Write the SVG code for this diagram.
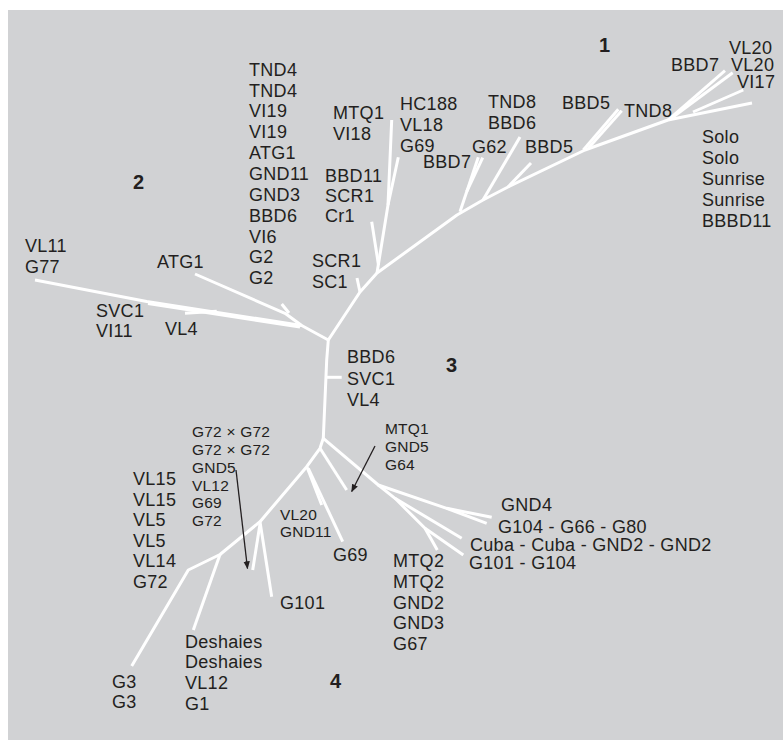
<svg xmlns="http://www.w3.org/2000/svg" width="783" height="740" viewBox="0 0 783 740">
<defs>
<style>
.t{font-family:"Liberation Sans",Arial,sans-serif;font-size:18px;letter-spacing:0.3px;fill:#231f20}
.s{font-family:"Liberation Sans",Arial,sans-serif;font-size:15.5px;letter-spacing:0.2px;fill:#231f20}
.n{font-family:"Liberation Sans",Arial,sans-serif;font-size:20px;font-weight:bold;fill:#231f20}
.b{fill:none;stroke:#ffffff;stroke-width:3;stroke-linejoin:round;stroke-linecap:butt}
.a{fill:none;stroke:#231f20;stroke-width:1.3}
</style>
<marker id="ah" viewBox="0 0 10 10" refX="9" refY="5" markerWidth="8" markerHeight="8" markerUnits="userSpaceOnUse" orient="auto">
<path d="M0,1 L10,5 L0,9 Z" fill="#231f20"/>
</marker>
</defs>
<rect x="8" y="10" width="775" height="730" fill="#d1d2d4"/>

<g id="connectors">
<polyline class="b" points="328.3,340 360,292 377,273 457,215 483,200 508,187 585,150 668,120 752,103"/>
<line class="b" x1="360" y1="292" x2="357" y2="278"/>
<polyline class="b" points="377,273 388,205 391.7,120"/>
<line class="b" x1="388" y1="205" x2="398.3" y2="157.3"/>
<line class="b" x1="378.5" y1="265" x2="371.7" y2="221.7"/>
<line class="b" x1="460" y1="211.7" x2="478.3" y2="157.3"/>
<line class="b" x1="466.7" y1="191.7" x2="482.7" y2="157.7"/>
<line class="b" x1="483" y1="200" x2="520" y2="137"/>
<line class="b" x1="508" y1="187" x2="531" y2="163"/>
<line class="b" x1="583.3" y1="150" x2="618.3" y2="109.3"/>
<line class="b" x1="588.3" y1="148.3" x2="621.7" y2="110.7"/>
<line class="b" x1="668.3" y1="120" x2="725" y2="70.7"/>
<line class="b" x1="673" y1="117" x2="732.7" y2="72.7"/>
<line class="b" x1="693" y1="112" x2="743.3" y2="90"/>
<polyline class="b" points="328.3,340 301.7,325.5 146.7,301.5 35,280"/>
<line class="b" x1="148" y1="303.5" x2="300" y2="327"/>
<polyline class="b" points="185,313.3 216.7,311.3"/>
<polyline class="b" points="195,274 285,313.3 301.7,325.5"/>
<line class="b" x1="281.7" y1="304" x2="289" y2="313"/>
<polyline class="b" points="328.3,340 326.7,360 323.3,438.3"/>
<line class="b" x1="326.5" y1="377.3" x2="341.7" y2="377.3"/>
<polyline class="b" points="323.3,438.3 320,448.3 306.7,466.7 260,521.7 220,554.5 188.3,570 131.7,666"/>
<line class="b" x1="220" y1="554.5" x2="193.3" y2="630"/>
<line class="b" x1="260" y1="521.7" x2="271.7" y2="596.7"/>
<line class="b" x1="260" y1="524" x2="252.7" y2="570"/>
<line class="b" x1="320" y1="448.3" x2="346.7" y2="490"/>
<line class="b" x1="307" y1="467" x2="321.7" y2="505"/>
<line class="b" x1="308.3" y1="468.3" x2="342.7" y2="541.7"/>
<polyline class="b" points="323.3,438.3 378.3,485 446.7,508.3 491.7,517.3"/>
<line class="b" x1="446.7" y1="508.3" x2="486.7" y2="523.3"/>
<polyline class="b" points="378.3,485 395,498.3 461.7,538.3"/>
<polyline class="b" points="395,498.3 425,528.3 463.3,555"/>
<line class="b" x1="425" y1="528.3" x2="437.3" y2="550"/>
<line class="a" x1="236" y1="470" x2="247.5" y2="568.5" marker-end="url(#ah)"/>
<line class="a" x1="375" y1="446" x2="351.7" y2="491.5" marker-end="url(#ah)"/>
</g>

<g id="cluster-numbers">
<text class="n" x="599" y="52">1</text>
<text class="n" x="133" y="189">2</text>
<text class="n" x="446" y="372">3</text>
<text class="n" x="330" y="688">4</text>
</g>

<g id="n-vl20-1"><text class="t" x="729" y="53.5">VL20</text></g>
<g id="n-bbd7-1"><text class="t" x="671" y="71">BBD7</text></g>
<g id="n-vl20-2"><text class="t" x="731" y="71">VL20</text></g>
<g id="n-vi17"><text class="t" x="737" y="87.5">VI17</text></g>
<g id="n-bbd5-1"><text class="t" x="562" y="109">BBD5</text></g>
<g id="n-tnd8-1"><text class="t" x="624" y="117">TND8</text></g>
<g id="n-solo"><text class="t" x="702" y="143">Solo</text><text class="t" x="702" y="164">Solo</text><text class="t" x="702" y="185">Sunrise</text><text class="t" x="702" y="206">Sunrise</text><text class="t" x="702" y="227">BBBD11</text></g>
<g id="n-tnd8-2"><text class="t" x="488" y="108">TND8</text><text class="t" x="488" y="129">BBD6</text></g>
<g id="n-bbd5-2"><text class="t" x="525" y="153">BBD5</text></g>
<g id="n-g62"><text class="t" x="472" y="153">G62</text></g>
<g id="n-bbd7-2"><text class="t" x="423" y="168">BBD7</text></g>
<g id="n-hc188"><text class="t" x="400" y="110">HC188</text><text class="t" x="400" y="131">VL18</text><text class="t" x="400" y="152">G69</text></g>
<g id="n-mtq1-1"><text class="t" x="333" y="119">MTQ1</text><text class="t" x="333" y="140">VI18</text></g>
<g id="n-bbd11"><text class="t" x="325" y="182">BBD11</text><text class="t" x="325" y="202">SCR1</text><text class="t" x="325" y="222">Cr1</text></g>
<g id="n-scr1"><text class="t" x="312" y="267">SCR1</text><text class="t" x="312" y="288">SC1</text></g>
<g id="n-tnd4"><text class="t" x="249" y="76">TND4</text><text class="t" x="249" y="97">TND4</text><text class="t" x="249" y="117">VI19</text><text class="t" x="249" y="138">VI19</text><text class="t" x="249" y="159">ATG1</text><text class="t" x="249" y="180">GND11</text><text class="t" x="249" y="201">GND3</text><text class="t" x="249" y="222">BBD6</text><text class="t" x="249" y="243">VI6</text><text class="t" x="249" y="263">G2</text><text class="t" x="249" y="284">G2</text></g>

<g id="n-vl11"><text class="t" x="25" y="252">VL11</text><text class="t" x="25" y="273">G77</text></g>
<g id="n-atg1"><text class="t" x="157" y="268">ATG1</text></g>
<g id="n-svc1"><text class="t" x="96" y="317">SVC1</text><text class="t" x="96" y="337">VI11</text></g>
<g id="n-vl4"><text class="t" x="165" y="335">VL4</text></g>

<g id="n-bbd6"><text class="t" x="347" y="363">BBD6</text><text class="t" x="347" y="385">SVC1</text><text class="t" x="347" y="406">VL4</text></g>
<g id="n-mtq1-2"><text class="s" x="385" y="434">MTQ1</text><text class="s" x="385" y="452">GND5</text><text class="s" x="385" y="470">G64</text></g>

<g id="n-g72"><text class="s" x="192" y="437">G72 × G72</text><text class="s" x="192" y="455">G72 × G72</text><text class="s" x="192" y="473">GND5</text><text class="s" x="192" y="491">VL12</text><text class="s" x="192" y="508">G69</text><text class="s" x="192" y="526">G72</text></g>
<g id="n-vl15"><text class="t" x="133" y="485">VL15</text><text class="t" x="133" y="506">VL15</text><text class="t" x="133" y="526">VL5</text><text class="t" x="133" y="547">VL5</text><text class="t" x="133" y="567">VL14</text><text class="t" x="133" y="588">G72</text></g>
<g id="n-vl20-3"><text class="s" x="280" y="520">VL20</text><text class="s" x="280" y="537">GND11</text></g>
<g id="n-g69"><text class="t" x="333" y="561">G69</text></g>
<g id="n-g101"><text class="t" x="280" y="609">G101</text></g>
<g id="n-gnd4"><text class="t" x="501" y="511">GND4</text></g>
<g id="n-g104"><text class="t" x="498" y="533">G104 - G66 - G80</text></g>
<g id="n-cuba"><text class="t" x="470" y="550.5">Cuba - Cuba - GND2 - GND2</text></g>
<g id="n-g101-g104"><text class="t" x="469" y="568.5">G101 - G104</text></g>
<g id="n-mtq2"><text class="t" x="393" y="567">MTQ2</text><text class="t" x="393" y="588">MTQ2</text><text class="t" x="393" y="609">GND2</text><text class="t" x="393" y="629">GND3</text><text class="t" x="393" y="650">G67</text></g>
<g id="n-deshaies"><text class="t" x="185" y="648">Deshaies</text><text class="t" x="185" y="668">Deshaies</text><text class="t" x="185" y="689">VL12</text><text class="t" x="185" y="710">G1</text></g>
<g id="n-g3"><text class="t" x="112" y="688">G3</text><text class="t" x="112" y="708">G3</text></g>
</svg>
